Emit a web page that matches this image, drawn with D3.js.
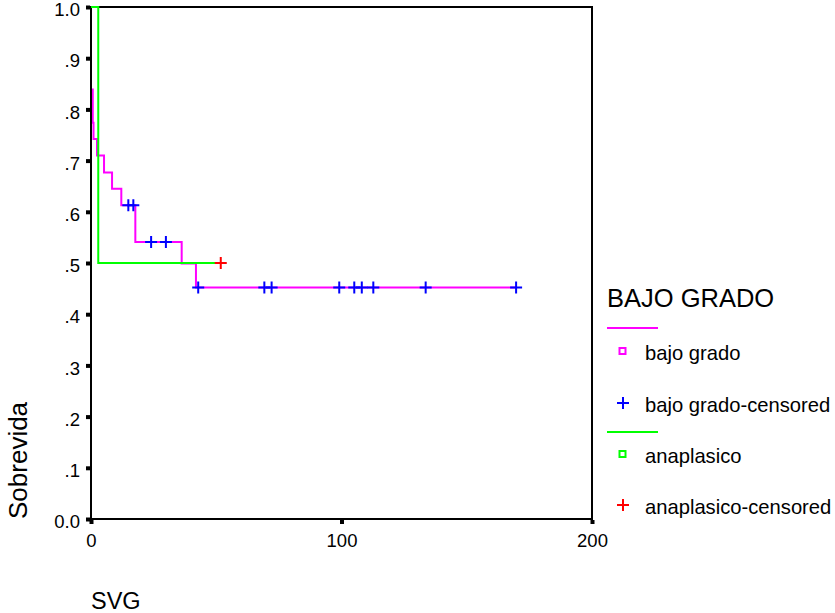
<!DOCTYPE html>
<html>
<head>
<meta charset="utf-8">
<script src="https://cdn.jsdelivr.net/npm/d3@7/dist/d3.min.js"></script>
<style>
  html, body { margin: 0; padding: 0; background: #fff; }
  svg { display: block; font-family: "Liberation Sans", Arial, sans-serif; }
</style>
</head>
<body>
<svg id="chart" width="835" height="613"></svg>
<script>
// Kaplan-Meier survival, grade "bajo grado"
const bajoTimes = [0, 0.7, 1.0, 2.4, 5.2, 8.4, 12.1, 17.7, 36.2, 41.9];
const bajoSurv  = [0.839, 0.774, 0.742, 0.710, 0.677, 0.645, 0.613, 0.541, 0.499, 0.452];
const bajoEnd = 169.7;
const bajoCensored = [14.9, 16.9, 24.0, 29.9, 42.8, 69.2, 72.1, 99.1, 105.1, 108.1, 112.7, 133.6, 169.7];

// Kaplan-Meier survival, grade "anaplasico"
const anaTimes = [2.9];
const anaSurv  = [0.5];
const anaEnd = 51.8;
const anaCensored = [51.8];

const yTicks = [0, 0.1, 0.2, 0.3, 0.4, 0.5, 0.6, 0.7, 0.8, 0.9, 1.0];
const yTickLabels = ["0.0", ".1", ".2", ".3", ".4", ".5", ".6", ".7", ".8", ".9", "1.0"];
const xTicks = [0, 100, 200];

const legendTitle = "BAJO GRADO";
const legendNames = ["bajo grado", "bajo grado-censored", "anaplasico", "anaplasico-censored"];

const svg = d3.select("#chart");
const x = d3.scaleLinear().domain([0, 200]).range([91, 592]);
const y = d3.scaleLinear().domain([0, 1]).range([519, 7]);

// plot frame
svg.append("rect")
  .attr("x", x(0)).attr("y", y(1))
  .attr("width", x(200) - x(0)).attr("height", y(0) - y(1))
  .attr("fill", "none").attr("stroke", "#000").attr("stroke-width", 2);

// y axis: square tick marks
const yAxis = d3.axisLeft(y).tickValues(yTicks)
  .tickFormat((d, i) => yTickLabels[i]).tickSize(4).tickPadding(6);
const gy = svg.append("g").attr("transform", `translate(${x(0) - 1},0)`).call(yAxis);
gy.select(".domain").remove();
gy.selectAll(".tick line").attr("stroke", "#000").attr("stroke-width", 4);
gy.selectAll(".tick text").attr("font-size", 18.5).attr("fill", "#000").attr("dy", "0.47em")
  .attr("font-family", "Liberation Sans, Arial, sans-serif");

// x axis
const xAxis = d3.axisBottom(x).tickValues(xTicks).tickFormat(d3.format("d")).tickSize(4).tickPadding(10);
const gx = svg.append("g").attr("transform", `translate(0,${y(0) + 1})`).call(xAxis);
gx.select(".domain").remove();
gx.selectAll(".tick line").attr("stroke", "#000").attr("stroke-width", 4);
gx.selectAll(".tick text").attr("font-size", 18.5).attr("fill", "#000")
  .attr("font-family", "Liberation Sans, Arial, sans-serif");

// survival value at time t for a step curve
function survAt(times, surv, t) {
  let s = 1;
  for (let i = 0; i < times.length; i++) if (times[i] <= t) s = surv[i];
  return s;
}

function stepPoints(times, surv, end) {
  const pts = [[0, 1]];
  times.forEach((t, i) => pts.push([t, surv[i]]));
  pts.push([end, surv[surv.length - 1]]);
  return pts;
}

const line = d3.line().x(d => x(d[0])).y(d => y(d[1])).curve(d3.curveStepAfter);

function plus(g, cx, cy, color, size) {
  const h = size / 2;
  g.append("path")
    .attr("d", `M${cx - h},${cy}H${cx + h}M${cx},${cy - h}V${cy + h}`)
    .attr("stroke", color).attr("stroke-width", 2).attr("fill", "none");
}

// bajo grado
svg.append("path")
  .attr("d", line(stepPoints(bajoTimes, bajoSurv, bajoEnd)))
  .attr("fill", "none").attr("stroke", "#ff00ff").attr("stroke-width", 2);

// left frame edge sits over the first drop
svg.append("line")
  .attr("x1", x(0)).attr("x2", x(0)).attr("y1", y(1) - 1).attr("y2", y(0) + 1)
  .attr("stroke", "#000").attr("stroke-width", 2);

// anaplasico and the censoring marks
const marks = svg.append("g");
marks.append("path")
  .attr("d", line(stepPoints(anaTimes, anaSurv, anaEnd)))
  .attr("fill", "none").attr("stroke", "#00ff00").attr("stroke-width", 2);

bajoCensored.forEach(t => plus(marks, x(t), y(survAt(bajoTimes, bajoSurv, t)), "#0000ff", 12));
anaCensored.forEach(t => plus(marks, x(t), y(survAt(anaTimes, anaSurv, t)), "#ff0000", 12));

// axis titles
svg.append("text").attr("x", 91).attr("y", 609)
  .attr("font-size", 23.5).attr("fill", "#000").text("SVG");
svg.append("text")
  .attr("transform", "translate(27,519) rotate(-90)")
  .attr("font-size", 26).attr("fill", "#000").text("Sobrevida");

// legend
const lg = svg.append("g");
lg.append("text").attr("x", 607).attr("y", 307).attr("font-size", 25.5).attr("fill", "#000").text(legendTitle);

const rows = [
  {line: "#ff00ff", lineY: 328},
  {marker: "square", color: "#ff00ff", y: 351, label: legendNames[0]},
  {marker: "plus", color: "#0000ff", y: 403, label: legendNames[1]},
  {line: "#00ff00", lineY: 432},
  {marker: "square", color: "#00ff00", y: 454, label: legendNames[2]},
  {marker: "plus", color: "#ff0000", y: 505, label: legendNames[3]}
];
rows.forEach(r => {
  if (r.line) {
    lg.append("line").attr("x1", 607).attr("x2", 658).attr("y1", r.lineY).attr("y2", r.lineY)
      .attr("stroke", r.line).attr("stroke-width", 2);
    return;
  }
  if (r.marker === "square") {
    lg.append("rect").attr("x", 619.5).attr("y", r.y - 3).attr("width", 6).attr("height", 6)
      .attr("fill", "none").attr("stroke", r.color).attr("stroke-width", 2);
  } else {
    plus(lg, 623, r.y, r.color, 12);
  }
  lg.append("text").attr("x", 645).attr("y", r.y + 9).attr("font-size", 20.2)
    .attr("fill", "#000").text(r.label);
});
</script>
</body>
</html>
